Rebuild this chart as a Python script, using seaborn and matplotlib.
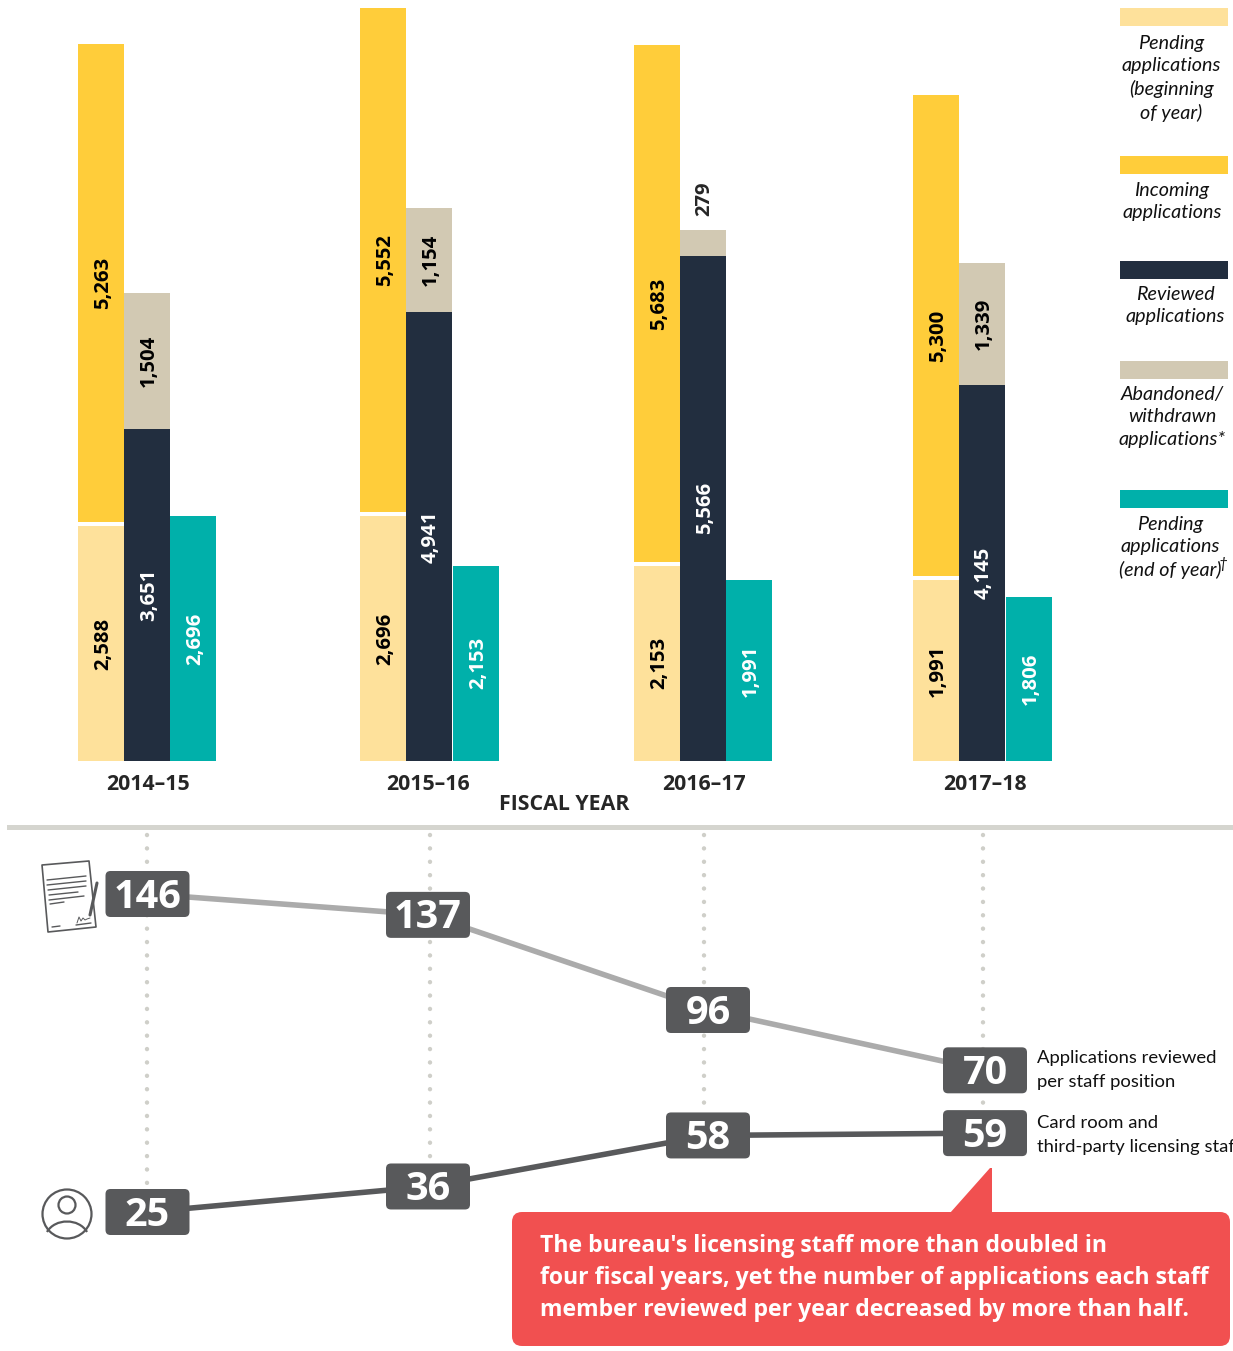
import numpy as np
import pandas as pd
import seaborn as sns
import matplotlib.pyplot as plt
from matplotlib.patches import FancyBboxPatch, Polygon, Circle, PathPatch, Rectangle
from matplotlib.path import Path
from matplotlib.transforms import IdentityTransform

W, H = 1233, 1351

years = ["2014–15", "2015–16", "2016–17", "2017–18"]
pending_start = [2588, 2696, 2153, 1991]
incoming = [5263, 5552, 5683, 5300]
reviewed = [3651, 4941, 5566, 4145]
abandoned = [1504, 1154, 279, 1339]
pending_end = [2696, 2153, 1991, 1806]
per_staff = [146, 137, 96, 70]
staff = [25, 36, 58, 59]

legend_labels = [
    "Pending\napplications\n(beginning\nof year)",
    "Incoming\napplications",
    "Reviewed\napplications",
    "Abandoned/\nwithdrawn\napplications*",
    "Pending\napplications\n(end of year)",
]

# layout, in pixels of the x axis
left_x = [101, 383, 657, 936]
mid_x = [147, 429, 703, 982]
right_x = [193, 476, 749, 1029]
year_x = [148, 428, 704, 985]
box_x = [147.5, 428, 708, 985]
grid_x = [147, 430, 704, 983]

C_PEND = "#fee19b"
C_INC = "#ffcd3a"
C_REV = "#222e3f"
C_ABA = "#d2c9b3"
C_END = "#00b0aa"
C_BOX = "#58595b"
C_LINE = "#ababab"
C_RED = "#f15050"
HEAVY = "Open Sans"

sns.set_style("white")
plt.rcParams["font.family"] = ["Lato", "DejaVu Sans"]

fig = plt.figure(figsize=(W / 100, H / 100), dpi=100)

# bars
ax = fig.add_axes([0, 1 - 761 / H, 1, 761 / H])
px_per_unit = 0.0908
gap = 4 / px_per_unit


def bars(x, vals, color, text_color, bottom=None, labels=None):
    x = np.array(x, dtype=float)
    vals = np.array(vals, dtype=float)
    bottom = np.zeros(len(vals)) if bottom is None else np.array(bottom, dtype=float)
    df = pd.DataFrame({"x": x, "v": vals})
    sns.barplot(data=df, x="x", y="v", native_scale=True, color=color, saturation=1,
                width=46 / np.diff(x).min(), bottom=bottom, errorbar=None, ax=ax, linewidth=0)
    if labels is None:
        labels = [f"{int(v):,}" for v in vals]
    for t in ax.bar_label(ax.containers[-1], labels=labels, label_type="center", rotation=90,
                          color=text_color, fontsize=14.6, fontweight="bold", family=HEAVY):
        t.xyann = (1.5, 0)


bars(left_x, pending_start, C_PEND, "black")
bars(left_x, incoming, C_INC, "black", bottom=np.array(pending_start) + gap)
bars(mid_x, reviewed, C_REV, "white")
aba_labels = [f"{v:,}" if v > 500 else "" for v in abandoned]
bars(mid_x, abandoned, C_ABA, "black", bottom=reviewed, labels=aba_labels)
bars(right_x, pending_end, C_END, "white")

# the one segment too thin to hold its label
for x, r, a in zip(mid_x, reviewed, abandoned):
    if a < 500:
        ax.annotate(f"{a:,}", (x, r + a), xytext=(1, 10), textcoords="offset points",
                    rotation=90, ha="center", va="bottom", fontsize=14.6, fontweight="bold",
                    family=HEAVY)

ax.set_xlim(0, W)
ax.set_ylim(0, 761 / px_per_unit)
ax.set_yticks([])
ax.set_ylabel("")
ax.set_xticks(year_x)
ax.set_xticklabels(years, fontsize=15.3, fontweight="bold", family=HEAVY)
ax.tick_params(axis="x", length=0, pad=9.5)
ax.set_xlabel("FISCAL YEAR", x=564 / W, fontsize=15.4, fontweight="bold", labelpad=-0.5, family=HEAVY)
sns.despine(ax=ax, left=True, bottom=True)
ax.patch.set_alpha(0)

# lines: both series share one vertical scale, with their own offset
px_per_line_unit = 2.32
ax_staff = fig.add_axes([0, 0, 1, 526 / H])
ax_rev = ax_staff.twinx()
ax_rev.set_zorder(ax_staff.get_zorder() + 1)
ax_rev.patch.set_alpha(0)
ax_staff.patch.set_alpha(0)

ax_staff.set_xlim(0, W)
ax_rev.set_xlim(0, W)
# y pixel 894 = 146 on one axis, y pixel 1212 = 25 on the other
ax_rev.set_ylim(146 - (1351 - 894) / px_per_line_unit, 146 + (894 - 825) / px_per_line_unit)
ax_staff.set_ylim(25 - (1351 - 1212) / px_per_line_unit, 25 + (1212 - 825) / px_per_line_unit)

top_val = ax_staff.get_ylim()[1] - 10 / px_per_line_unit
for gx, v in zip(grid_x, staff):
    ax_staff.plot([gx, gx], [top_val, v], color="#cfcfc9", lw=3.2, zorder=1,
                  linestyle=(0, (0.01, 3.0)), dash_capstyle="round")

sns.lineplot(x=box_x, y=per_staff, color=C_LINE, lw=4, ax=ax_rev, zorder=2, errorbar=None)
sns.lineplot(x=box_x, y=staff, color=C_BOX, lw=4, ax=ax_staff, zorder=2, errorbar=None)


def value_boxes(a, xs, vals):
    for x, v in zip(xs, vals):
        cx, cy = a.transData.transform((x, v))
        a.add_patch(FancyBboxPatch((cx - 37, cy - 18), 74, 36,
                                   boxstyle="round,pad=5,rounding_size=5",
                                   fc=C_BOX, ec="none", transform=IdentityTransform(),
                                   zorder=3, clip_on=False))
        a.annotate(str(v), (x, v), xytext=(0, 1), textcoords="offset points",
                   ha="center", va="center_baseline", color="white",
                   fontsize=28.5, fontweight="bold", family=HEAVY, zorder=4)


value_boxes(ax_staff, box_x, staff)
value_boxes(ax_rev, box_x, per_staff)

for a in (ax_staff, ax_rev):
    a.set_yticks([])
    a.set_xticks([])
    a.set_ylabel("")
    for s in a.spines.values():
        s.set_visible(False)

# overlay in pixel coordinates: legend, separator, icons, callout
ov = fig.add_axes([0, 0, 1, 1], zorder=10)
ov.set_xlim(0, W)
ov.set_ylim(H, 0)
ov.axis("off")

ov.add_patch(Rectangle((7, 825), W - 7, 5, fc="#d5d5cf", ec="none"))

swatch_y = [8, 156, 261, 361, 490]
swatch_c = [C_PEND, C_INC, C_REV, C_ABA, C_END]
text_x = [1171, 1172, 1175, 1172, 1170]
text_y = [35, 182, 286, 386, 516]
for sy, c, tx, ty, lab in zip(swatch_y, swatch_c, text_x, text_y, legend_labels):
    ov.add_patch(Rectangle((1120, sy), 108, 18, fc=c, ec="none"))
    ov.text(tx, ty, lab, ha="center", va="top", style="italic", fontsize=14.2,
            linespacing=1.38, color="#111111")
ov.text(1219, 564, "†", ha="left", va="center", style="italic", fontsize=11, color="#111111")

ov.text(1037, 1070, "Applications reviewed\nper staff position", ha="left", va="center",
        fontsize=13.3, linespacing=1.6, color="#111111")
ov.text(1037, 1135, "Card room and\nthird-party licensing staff", ha="left", va="center",
        fontsize=13.3, linespacing=1.6, color="#111111")

# callout
ov.add_patch(FancyBboxPatch((522, 1222), 698, 114, boxstyle="round,pad=10,rounding_size=10",
                            fc=C_RED, ec="none"))
ov.add_patch(Polygon([(950, 1213), (990, 1168), (992, 1168), (992, 1213)], fc=C_RED, ec="none"))
callout = ["The bureau's licensing staff more than doubled in",
           "four fiscal years, yet the number of applications each staff",
           "member reviewed per year decreased by more than half."]
for ty, line in zip([1246, 1278, 1310], callout):
    ov.text(540, ty, line, color="white", fontsize=16.6, fontweight="bold", family=HEAVY, va="center")

# document icon
ov.add_patch(Polygon([(42, 865), (89, 861), (96, 927), (48, 932)], closed=True, fc="white",
                     ec=C_BOX, lw=1.2, joinstyle="round"))
for (x0, y0, x1, y1) in [(47, 880, 86, 876), (47, 885, 86, 881), (48, 890, 86, 886),
                         (49, 895, 78, 892), (49, 900, 84, 896), (50, 904, 64, 902),
                         (52, 927, 60, 926), (76, 925, 91, 923)]:
    ov.plot([x0, x1], [y0, y1], color=C_BOX, lw=1)
ov.plot([90, 97], [915, 883], color=C_BOX, lw=2.2, solid_capstyle="round")
ov.plot([77, 79, 81, 83, 85, 87, 90], [923, 917, 921, 918, 920, 919, 918], color=C_BOX, lw=0.7)

# person icon
ov.add_patch(Circle((67, 1214), 24.5, fc="none", ec=C_BOX, lw=1.6))
ov.add_patch(Circle((67, 1205), 8.5, fc="none", ec=C_BOX, lw=1.6))
ov.add_patch(PathPatch(Path([(47, 1232), (55, 1218), (79, 1218), (87, 1232)],
                            [Path.MOVETO, Path.CURVE4, Path.CURVE4, Path.CURVE4]),
                       fc="none", ec=C_BOX, lw=1.6))

fig.savefig("out.png", dpi=100)
